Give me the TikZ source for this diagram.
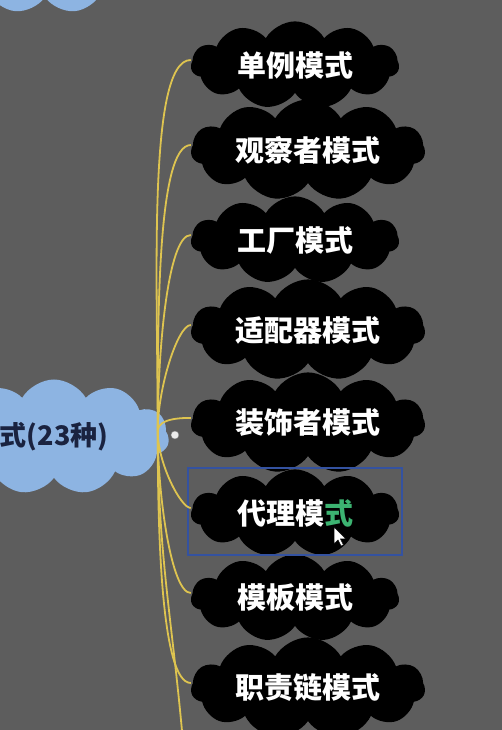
\documentclass[tikz,border=0pt]{standalone}
\usepackage{fontspec}
\newfontfamily\cjk{Noto Sans CJK SC}
\usepackage{tikz}
\usetikzlibrary{calc,positioning,fit,shapes.symbols}
\definecolor{mapgray}{RGB}{93,93,93}
\definecolor{rootblue}{RGB}{141,180,226}
\definecolor{rootink}{RGB}{26,35,64}
\definecolor{branch}{RGB}{222,196,80}
\definecolor{selblue}{RGB}{52,82,160}
\definecolor{editgreen}{RGB}{60,179,113}
\tikzstyle{puff} = [cloud, cloud puffs=11, cloud puff arc=120, aspect=2.6, inner sep=0pt, fill=black, text=white, font=\cjk\bfseries\fontsize{29}{32}\selectfont]
\tikzstyle{link} = [draw=branch, line width=1.8pt]
\pgfdeclarelayer{background}
\pgfsetlayers{background,main}

\begin{document}
\begin{tikzpicture}[x=1pt, y=1pt]
\tikzset{%
	short/.style = { puff, minimum width=208pt, minimum height=84pt },
	long/.style = { puff, aspect=2.9, minimum width=234pt, minimum height=84pt },
	top/.style = { cloud, cloud puffs=11, cloud puff arc=120, aspect=2, inner sep=0pt, fill=rootblue, minimum width=230pt, minimum height=115pt, text=rootink, font=\cjk\bfseries\fontsize{27}{30}\selectfont }
}
\useasboundingbox (0,0) rectangle (502,730);
\begin{pgfonlayer}{background}
	\fill [mapgray] (0,0) rectangle (502,730);
\end{pgfonlayer}
\clip (0,0) rectangle (502,730);

\node(up) [top, minimum width=210pt, minimum height=90pt] at (45,762) {};
\node(dp0) [top] at (54,293) {式(23种)};

\node(dp1) [short] at (295,665) {单例模式};
\node(dp2) [long] at (308,580) {观察者模式};
\node(dp3) [short] at (295,490) {工厂模式};
\node(dp4) [long] at (308,400) {适配器模式};
\node(dp5) [long] at (308,307) {装饰者模式};
\node(dp6) [short] at (295,217) {代理模\textcolor{editgreen}{式}};
\node(dp7) [short] at (295,132) {模板模式};
\node(dp8) [long] at (308,42) {职责链模式};

% selection round the node being edited
\node(sel) [draw=selblue, line width=1.8pt, inner xsep=3pt, inner ysep=7.5pt, fit={(dp6)}, yshift=-6.5pt] {};

\coordinate (hub) at ([shift={(-11,6)}]dp0.east);
\coordinate (more) at (183,-12);

\foreach \n in {1,2,3,4,5}
	\draw [link] (hub) to[out=90, in=180, out looseness=1, in looseness=0.3] ([yshift=5pt]dp\n.west);
\foreach \n in {6,7,8}
	\draw [link] (hub) to[out=-90, in=180, out looseness=1, in looseness=0.3] ([yshift=5pt]dp\n.west);
\draw [link] (hub) to[out=-90, in=95] (more);

\node(fold) [circle, fill=white!85!gray, draw=gray, inner sep=0pt, minimum size=8pt, right=13pt of hub, yshift=-4pt] {};

% mouse pointer
\draw [fill=white, draw=black, line width=0.5pt] (334,203) -- ++(0,-17) -- ++(4,4) -- ++(3,-6) -- ++(2.5,1) -- ++(-3,6) -- ++(5.5,0) -- cycle;
\end{tikzpicture}
\end{document}
